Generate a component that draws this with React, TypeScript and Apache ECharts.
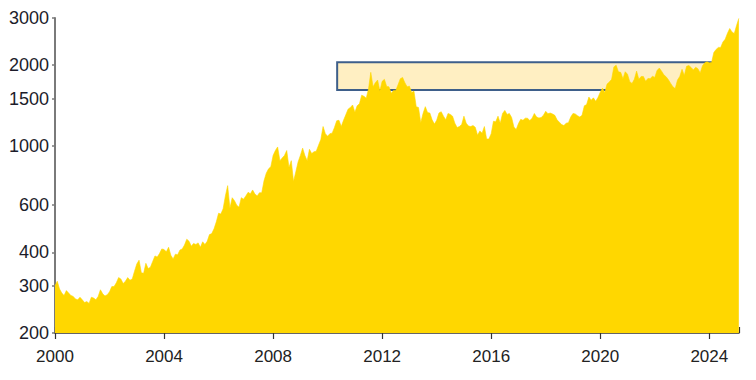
import React, { useEffect, useRef } from "react";
import * as echarts from "echarts";

// Gold price, USD per ounce, monthly readings (Jan..Dec)
const years = [2000, 2001, 2002, 2003, 2004, 2005, 2006, 2007, 2008, 2009, 2010, 2011, 2012, 2013, 2014, 2015, 2016, 2017, 2018, 2019, 2020, 2021, 2022, 2023, 2024, 2025];
const p2000 = [300, 312, 292, 282, 276, 288, 282, 276, 274, 268, 266, 272];
const p2001 = [266, 260, 262, 258, 272, 270, 266, 274, 290, 280, 275, 278];
const p2002 = [285, 298, 298, 308, 322, 318, 306, 312, 322, 315, 318, 340];
const p2003 = [362, 374, 336, 334, 364, 348, 352, 370, 388, 384, 396, 412];
const p2004 = [410, 402, 418, 390, 378, 394, 392, 408, 412, 426, 448, 440];
const p2005 = [422, 432, 428, 434, 418, 438, 428, 440, 466, 470, 490, 520];
const p2006 = [560, 556, 582, 650, 710, 585, 640, 624, 600, 590, 640, 632];
const p2007 = [650, 670, 662, 684, 660, 650, 668, 668, 740, 790, 820, 836];
const p2008 = [920, 960, 990, 880, 900, 920, 960, 830, 880, 735, 800, 870];
const p2009 = [920, 980, 920, 880, 970, 935, 950, 955, 1005, 1055, 1180, 1110];
const p2010 = [1085, 1110, 1115, 1170, 1240, 1245, 1180, 1245, 1305, 1370, 1390, 1420];
const p2011 = [1335, 1410, 1435, 1545, 1530, 1505, 1630, 1880, 1660, 1720, 1760, 1600];
const p2012 = [1740, 1770, 1665, 1660, 1570, 1610, 1610, 1690, 1780, 1800, 1720, 1660];
const p2013 = [1670, 1580, 1600, 1400, 1390, 1220, 1320, 1400, 1330, 1325, 1250, 1205];
const p2014 = [1245, 1325, 1340, 1290, 1250, 1320, 1310, 1290, 1215, 1170, 1180, 1200];
const p2015 = [1290, 1215, 1185, 1180, 1190, 1172, 1095, 1135, 1115, 1180, 1060, 1060];
const p2016 = [1110, 1235, 1230, 1290, 1215, 1320, 1355, 1310, 1320, 1275, 1175, 1150];
const p2017 = [1210, 1255, 1245, 1268, 1268, 1242, 1268, 1320, 1280, 1270, 1275, 1300];
const p2018 = [1345, 1318, 1325, 1315, 1300, 1250, 1225, 1200, 1190, 1215, 1220, 1280];
const p2019 = [1320, 1315, 1295, 1280, 1300, 1410, 1425, 1520, 1480, 1510, 1465, 1515];
const p2020 = [1585, 1640, 1580, 1700, 1730, 1770, 1970, 2000, 1890, 1880, 1780, 1890];
const p2021 = [1850, 1735, 1710, 1770, 1900, 1770, 1815, 1815, 1740, 1785, 1780, 1820];
const p2022 = [1800, 1910, 1950, 1900, 1840, 1810, 1765, 1710, 1660, 1635, 1760, 1815];
const p2023 = [1930, 1830, 1980, 1995, 1960, 1920, 1965, 1940, 1870, 1990, 2040, 2060];
const p2024 = [2040, 2045, 2230, 2290, 2330, 2330, 2440, 2500, 2630, 2740, 2660, 2625];
const p2025 = [2810, 2990];
const prices = [p2000, p2001, p2002, p2003, p2004, p2005, p2006, p2007, p2008, p2009, p2010, p2011, p2012, p2013, p2014, p2015, p2016, p2017, p2018, p2019, p2020, p2021, p2022, p2023, p2024, p2025];

const yTicks = [200, 300, 400, 600, 1000, 1500, 2000, 3000];
const xMin = 2000;
const xMax = 2025.09;
const xInterval = 4;

// highlighted range box: from / to year and price band
const boxYears = [2010.35, 2024.12];
const boxPrices = [1615, 2050];

const log = (v: number) => Math.log10(v);

export default function App() {
  const ref = useRef<HTMLDivElement>(null);
  useEffect(() => {
    if (!ref.current) return;
    const chart = echarts.init(ref.current, null, { renderer: "svg" });
    const data: number[][] = [];
    years.forEach((y, i) => {
      prices[i].forEach((v, m) => data.push([y + m / 12, log(v)]));
    });
    const font = "Liberation Sans, Arial, sans-serif";
    const boxData = [[
      { xAxis: boxYears[0], yAxis: log(boxPrices[0]) },
      { xAxis: boxYears[1], yAxis: log(boxPrices[1]) },
    ]];
    chart.setOption({
      animation: false,
      grid: { left: 55, right: 17, top: 18, bottom: 47 },
      xAxis: [
        {
          type: "value",
          min: xMin,
          max: xMax,
          interval: xInterval,
          splitLine: { show: false },
          axisLine: { lineStyle: { color: "#333", width: 1.5 } },
          axisTick: { show: true, length: 6, lineStyle: { color: "#333", width: 1.2 } },
          axisLabel: {
            color: "#222",
            fontSize: 17,
            fontFamily: font,
            margin: 15,
            showMaxLabel: false,
            formatter: (v: number) => String(Math.round(v)),
          },
        },
        {
          type: "value",
          position: "bottom",
          min: xMin,
          max: xMax,
          interval: xInterval,
          splitLine: { show: false },
          axisLine: { show: false },
          axisTick: { show: true, inside: true, length: 6, lineStyle: { color: "#333", width: 1.2 } },
          axisLabel: { show: false },
        },
      ],
      yAxis: {
        type: "value",
        min: log(yTicks[0]),
        max: log(yTicks[yTicks.length - 1]),
        splitLine: { show: false },
        axisLine: { show: true, lineStyle: { color: "#7a7a7a", width: 2 } },
        axisTick: {
          show: true,
          length: 3,
          customValues: yTicks.map(log),
          lineStyle: { color: "#7a7a7a", width: 1.5 },
        },
        axisLabel: {
          color: "#1c1c2a",
          fontSize: 18,
          fontFamily: font,
          margin: 6,
          customValues: yTicks.map(log),
          formatter: (v: number) => String(Math.round(Math.pow(10, v))),
        },
      },
      series: [
        {
          type: "line",
          data,
          symbol: "none",
          z: 3,
          lineStyle: { width: 0.6, color: "#FFD700" },
          areaStyle: { color: "#FFD700", opacity: 1, origin: "start" },
          markArea: {
            silent: true,
            z: 1,
            itemStyle: { color: "#FFEFC2", borderWidth: 0 },
            data: boxData,
          },
        },
        {
          type: "line",
          data: [],
          z: 5,
          markArea: {
            silent: true,
            itemStyle: { color: "rgba(0,0,0,0)", borderColor: "#3E5F8A", borderWidth: 2 },
            data: boxData,
          },
        },
      ],
    });
    return () => chart.dispose();
  }, []);
  return <div ref={ref} style={{ position: "absolute", left: 0, top: 0, width: 756, height: 380 }} />;
}
